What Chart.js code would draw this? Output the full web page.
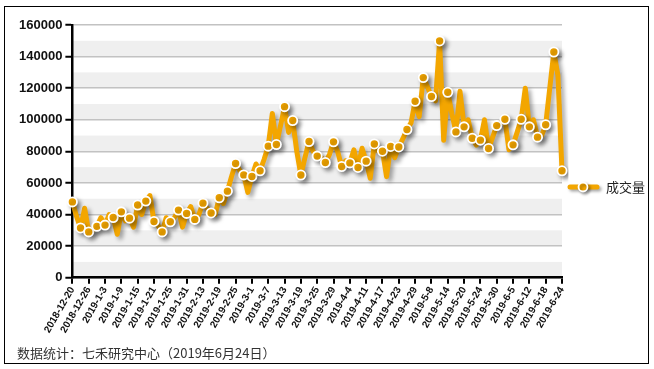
<!DOCTYPE html>
<html>
<head>
<meta charset="utf-8">
<script src="https://cdn.jsdelivr.net/npm/chart.js@4.4.1/dist/chart.umd.min.js"></script>
<style>
  html, body { margin: 0; padding: 0; background: #fff; }
  #wrap { position: relative; width: 654px; height: 369px; }
  #note {
    position: absolute; left: 17px; top: 343px;
    font: 13px "Noto Sans CJK SC", sans-serif; color: #333;
  }
</style>
</head>
<body>
<div id="wrap">
  <canvas id="chart" width="654" height="369"></canvas>
  <div id="note">数据统计：七禾研究中心（2019年6月24日）</div>
</div>
<script>
// Dates de cotation (un point par séance)
const dates = [
  '2018-12-20','2018-12-21','2018-12-24','2018-12-25','2018-12-26','2018-12-27','2018-12-28','2019-1-2',
  '2019-1-3','2019-1-4','2019-1-7','2019-1-8','2019-1-9','2019-1-10','2019-1-11','2019-1-14',
  '2019-1-15','2019-1-16','2019-1-17','2019-1-18','2019-1-21','2019-1-22','2019-1-23','2019-1-24',
  '2019-1-25','2019-1-28','2019-1-29','2019-1-30','2019-1-31','2019-2-1','2019-2-11','2019-2-12',
  '2019-2-13','2019-2-14','2019-2-15','2019-2-18','2019-2-19','2019-2-20','2019-2-21','2019-2-22',
  '2019-2-25','2019-2-26','2019-2-27','2019-2-28','2019-3-1','2019-3-4','2019-3-5','2019-3-6',
  '2019-3-7','2019-3-8','2019-3-11','2019-3-12','2019-3-13','2019-3-14','2019-3-15','2019-3-18',
  '2019-3-19','2019-3-20','2019-3-21','2019-3-22','2019-3-25','2019-3-26','2019-3-27','2019-3-28',
  '2019-3-29','2019-4-1','2019-4-2','2019-4-3','2019-4-4','2019-4-8','2019-4-9','2019-4-10',
  '2019-4-11','2019-4-12','2019-4-15','2019-4-16','2019-4-17','2019-4-18','2019-4-19','2019-4-22',
  '2019-4-23','2019-4-24','2019-4-25','2019-4-26','2019-4-29','2019-4-30','2019-5-6','2019-5-7',
  '2019-5-8','2019-5-9','2019-5-10','2019-5-13','2019-5-14','2019-5-15','2019-5-16','2019-5-17',
  '2019-5-20','2019-5-21','2019-5-22','2019-5-23','2019-5-24','2019-5-27','2019-5-28','2019-5-29',
  '2019-5-30','2019-5-31','2019-6-3','2019-6-4','2019-6-5','2019-6-6','2019-6-10','2019-6-11',
  '2019-6-12','2019-6-13','2019-6-14','2019-6-17','2019-6-18','2019-6-19','2019-6-20','2019-6-21',
  '2019-6-24'
];

// Volume (成交量)
const volume = [
  48000, 39000, 31500, 44000, 29000, 30000, 32500, 38000,
  33300, 40000, 38100, 27500, 41700, 36000, 37700, 32000,
  46000, 40000, 48500, 52000, 35600, 33000, 29000, 38000,
  35400, 38000, 42800, 32000, 40700, 45000, 36900, 40000,
  47200, 44000, 41000, 40000, 50600, 47000, 54800, 64000,
  72300, 68000, 65100, 54000, 64100, 72000, 67700, 75000,
  83300, 104000, 84300, 96000, 108300, 92000, 99500, 80000,
  65000, 76000, 86200, 80000, 77000, 76000, 72900, 78000,
  86000, 80000, 70400, 74000, 72700, 81000, 69800, 82000,
  73800, 63000, 84700, 80000, 80100, 64000, 83100, 76000,
  82800, 88000, 93800, 98000, 111700, 102000, 126700, 121000,
  114700, 112000, 149900, 87000, 117400, 104000, 92300, 118000,
  95500, 100000, 88300, 84000, 87100, 100000, 81800, 89000,
  96300, 98000, 100300, 81000, 84100, 92000, 100300, 120000,
  95500, 100000, 89000, 90000, 96800, 120000, 142900, 128000,
  67700
];

const seriesName = '成交量';
const yMax = 160000;
const yStep = 10000;

const orange = '#F3A600';

// Bandes grises alternées derrière la grille
const bandsPlugin = {
  id: 'bands',
  beforeDraw(chart) {
    const { ctx, chartArea, scales } = chart;
    ctx.save();
    ctx.fillStyle = '#efefef';
    for (let v = 0; v < yMax; v += 2 * yStep) {
      const top = scales.y.getPixelForValue(v + yStep);
      const bottom = scales.y.getPixelForValue(v);
      ctx.fillRect(chartArea.left, top, chartArea.right - chartArea.left, bottom - top);
    }
    ctx.restore();
  }
};

// Ombre portée sous la courbe
const shadowPlugin = {
  id: 'shadow',
  beforeDatasetDraw(chart) {
    const ctx = chart.ctx;
    ctx.save();
    ctx.shadowColor = 'rgba(0,0,0,0.35)';
    ctx.shadowBlur = 4;
    ctx.shadowOffsetX = 3;
    ctx.shadowOffsetY = 3;
  },
  afterDatasetDraw(chart) {
    chart.ctx.restore();
  }
};

// Légende (ligne + rond) et cadre
const extrasPlugin = {
  id: 'extras',
  afterDraw(chart) {
    const { ctx, chartArea } = chart;
    const x0 = chartArea.right + 6;
    const y0 = 187;
    ctx.save();
    ctx.shadowColor = 'rgba(0,0,0,0.35)';
    ctx.shadowBlur = 3;
    ctx.shadowOffsetX = 2;
    ctx.shadowOffsetY = 2;
    ctx.strokeStyle = orange;
    ctx.lineWidth = 5;
    ctx.lineCap = 'round';
    ctx.beginPath();
    ctx.moveTo(x0 + 2, y0);
    ctx.lineTo(x0 + 29, y0);
    ctx.stroke();
    ctx.beginPath();
    ctx.arc(x0 + 15, y0, 4.5, 0, Math.PI * 2);
    ctx.fillStyle = orange;
    ctx.fill();
    ctx.strokeStyle = '#fff';
    ctx.lineWidth = 1.8;
    ctx.stroke();
    ctx.restore();

    ctx.save();
    ctx.fillStyle = '#222';
    ctx.font = '13px "Noto Sans CJK SC", sans-serif';
    ctx.textBaseline = 'middle';
    ctx.fillText(chart.data.datasets[0].label, x0 + 38, y0);

    ctx.strokeStyle = '#000';
    ctx.lineWidth = 1;
    ctx.strokeRect(4.5, 6.5, 644, 357);
    ctx.restore();
  }
};

const ctx = document.getElementById('chart').getContext('2d');
new Chart(ctx, {
  type: 'line',
  data: {
    labels: dates,
    datasets: [{
      label: seriesName,
      data: volume,
      borderColor: orange,
      borderWidth: 5,
      borderJoinStyle: 'round',
      borderCapStyle: 'round',
      tension: 0,
      fill: false,
      backgroundColor: orange,
      pointBackgroundColor: orange,
      pointBorderColor: '#fff',
      pointBorderWidth: 1.8,
      pointRadius: c => (c.dataIndex % 2 === 0 ? 4.6 : 0),
      pointHoverRadius: c => (c.dataIndex % 2 === 0 ? 4.6 : 0)
    }]
  },
  options: {
    responsive: false,
    animation: false,
    layout: { padding: { left: 16, right: 92, top: 25, bottom: 33 } },
    plugins: {
      legend: { display: false },
      tooltip: { enabled: false }
    },
    scales: {
      x: {
        offset: false,
        afterBuildTicks: scale => {
          scale.ticks = scale.ticks.filter(t => t.value % 4 === 0);
        },
        ticks: {
          autoSkip: false,
          minRotation: 60,
          maxRotation: 60,
          padding: 1,
          color: '#111',
          font: { family: '"Liberation Sans", Arial', size: 10, weight: 'bold' }
        },
        grid: {
          drawOnChartArea: false,
          color: '#000',
          lineWidth: 2,
          tickLength: 6
        },
        border: { color: '#000', width: 2.5 }
      },
      y: {
        min: 0,
        max: yMax,
        ticks: {
          stepSize: yStep,
          padding: 3,
          color: '#111',
          font: { family: '"Liberation Sans", Arial', size: 13, weight: 'bold' },
          callback: v => (v % 20000 === 0 ? v : '')
        },
        grid: {
          color: '#c2c2c2',
          lineWidth: 1.5,
          tickLength: 7,
          tickColor: c => (c.tick && c.tick.value % 20000 === 0 ? '#000' : 'rgba(0,0,0,0)'),
          tickWidth: 2
        },
        border: { color: '#000', width: 2.5 }
      }
    }
  },
  plugins: [bandsPlugin, shadowPlugin, extrasPlugin]
});
</script>
</body>
</html>
